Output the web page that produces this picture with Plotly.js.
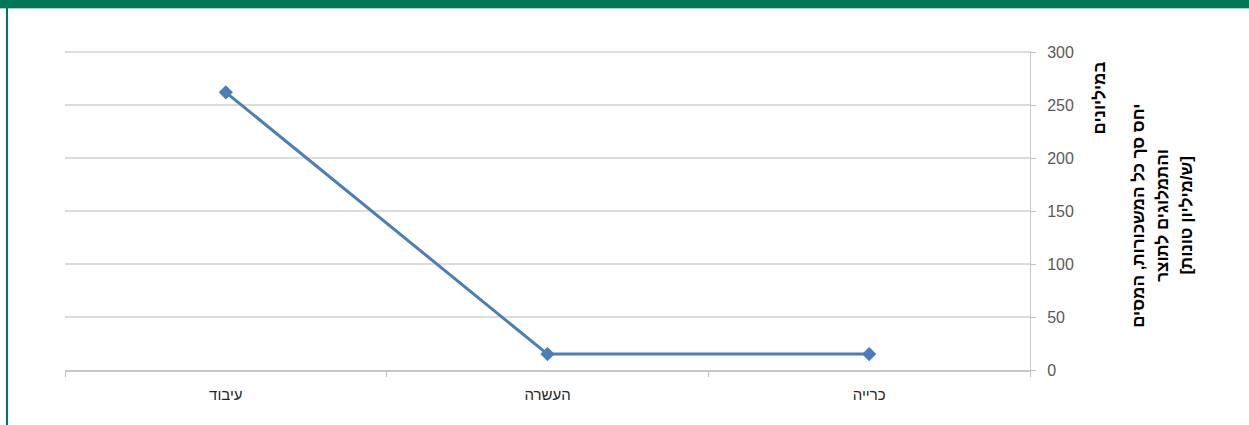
<!DOCTYPE html>
<html>
<head>
<meta charset="utf-8">
<script src="https://cdn.plot.ly/plotly-3.0.1.min.js"></script>
<style>
  html, body { margin: 0; padding: 0; background: #fff; }
  #wrap { position: relative; width: 1249px; height: 425px; overflow: hidden; }
  #chart { position: absolute; left: 0; top: 0; width: 1249px; height: 425px; }
  #topbar { position: absolute; left: 0; top: 0; width: 1249px; height: 8px; background: #00775B; border-bottom: 1px solid #9fd3c4; }
  #leftbar { position: absolute; left: 6px; top: 8px; width: 2px; height: 417px; background: #00775B; }
</style>
</head>
<body>
<div id="wrap">
  <div id="chart"></div>
  <div id="topbar"></div>
  <div id="leftbar"></div>
</div>
<script>
// Data
const categories = ["עיבוד", "העשרה", "כרייה"];
const values = [262, 15, 15];
const yTickValues = [0, 50, 100, 150, 200, 250, 300];
const unitLabel = "במיליונים";
const titleLines = ["יחס סך כל המשכורות, המסים", "והתמלוגים לתוצר", "[ש/מיליון טונות]"];

const trace = {
  type: "scatter",
  mode: "lines+markers",
  x: categories,
  y: values,
  line: { color: "#4A7EBB", width: 3 },
  marker: { symbol: "diamond", size: 11, color: "#4A7EBB" },
  hoverinfo: "x+y"
};

const titleFont = { family: "Liberation Sans, Arial, sans-serif", size: 17, color: "#000000" };
const lineX = [1.1121, 1.1379, 1.1627];

const annotations = [
  {
    text: "<b>" + unitLabel + "</b>",
    xref: "paper", yref: "paper",
    x: 1.0725, y: 0.975,
    xanchor: "center", yanchor: "top",
    textangle: -90, showarrow: false,
    font: titleFont
  }
].concat(titleLines.map((t, i) => ({
  text: "<b>" + t + "</b>",
  xref: "paper", yref: "paper",
  x: lineX[i], y: 0.484,
  xanchor: "center", yanchor: "middle",
  textangle: -90, showarrow: false,
  font: titleFont
})));

const layout = {
  width: 1249,
  height: 425,
  margin: { l: 65, r: 219, t: 51, b: 55 },
  paper_bgcolor: "#ffffff",
  plot_bgcolor: "#ffffff",
  showlegend: false,
  font: { family: "Liberation Sans, Arial, sans-serif" },
  xaxis: {
    type: "category",
    range: [-0.5, 2.5],
    showgrid: false,
    showline: true,
    linecolor: "#c8c8c8",
    linewidth: 2,
    ticks: "outside",
    tickson: "boundaries",
    ticklen: 5,
    tickcolor: "#bfbfbf",
    tickangle: 0,
    ticklabelstandoff: 10,
    tickfont: { size: 15, color: "#262626" },
    zeroline: false,
    fixedrange: true
  },
  yaxis: {
    side: "right",
    range: [0, 301],
    tickvals: yTickValues,
    showgrid: true,
    gridcolor: "#dcdcdc",
    gridwidth: 2,
    showline: true,
    linecolor: "#c8c8c8",
    linewidth: 1,
    ticks: "outside",
    ticklen: 5,
    tickcolor: "#bfbfbf",
    tickfont: { size: 16, color: "#595959" },
    ticklabelstandoff: 8,
    zeroline: false,
    fixedrange: true
  },
  annotations: annotations
};

Plotly.newPlot("chart", [trace], layout, { displayModeBar: false, staticPlot: true });
</script>
</body>
</html>
